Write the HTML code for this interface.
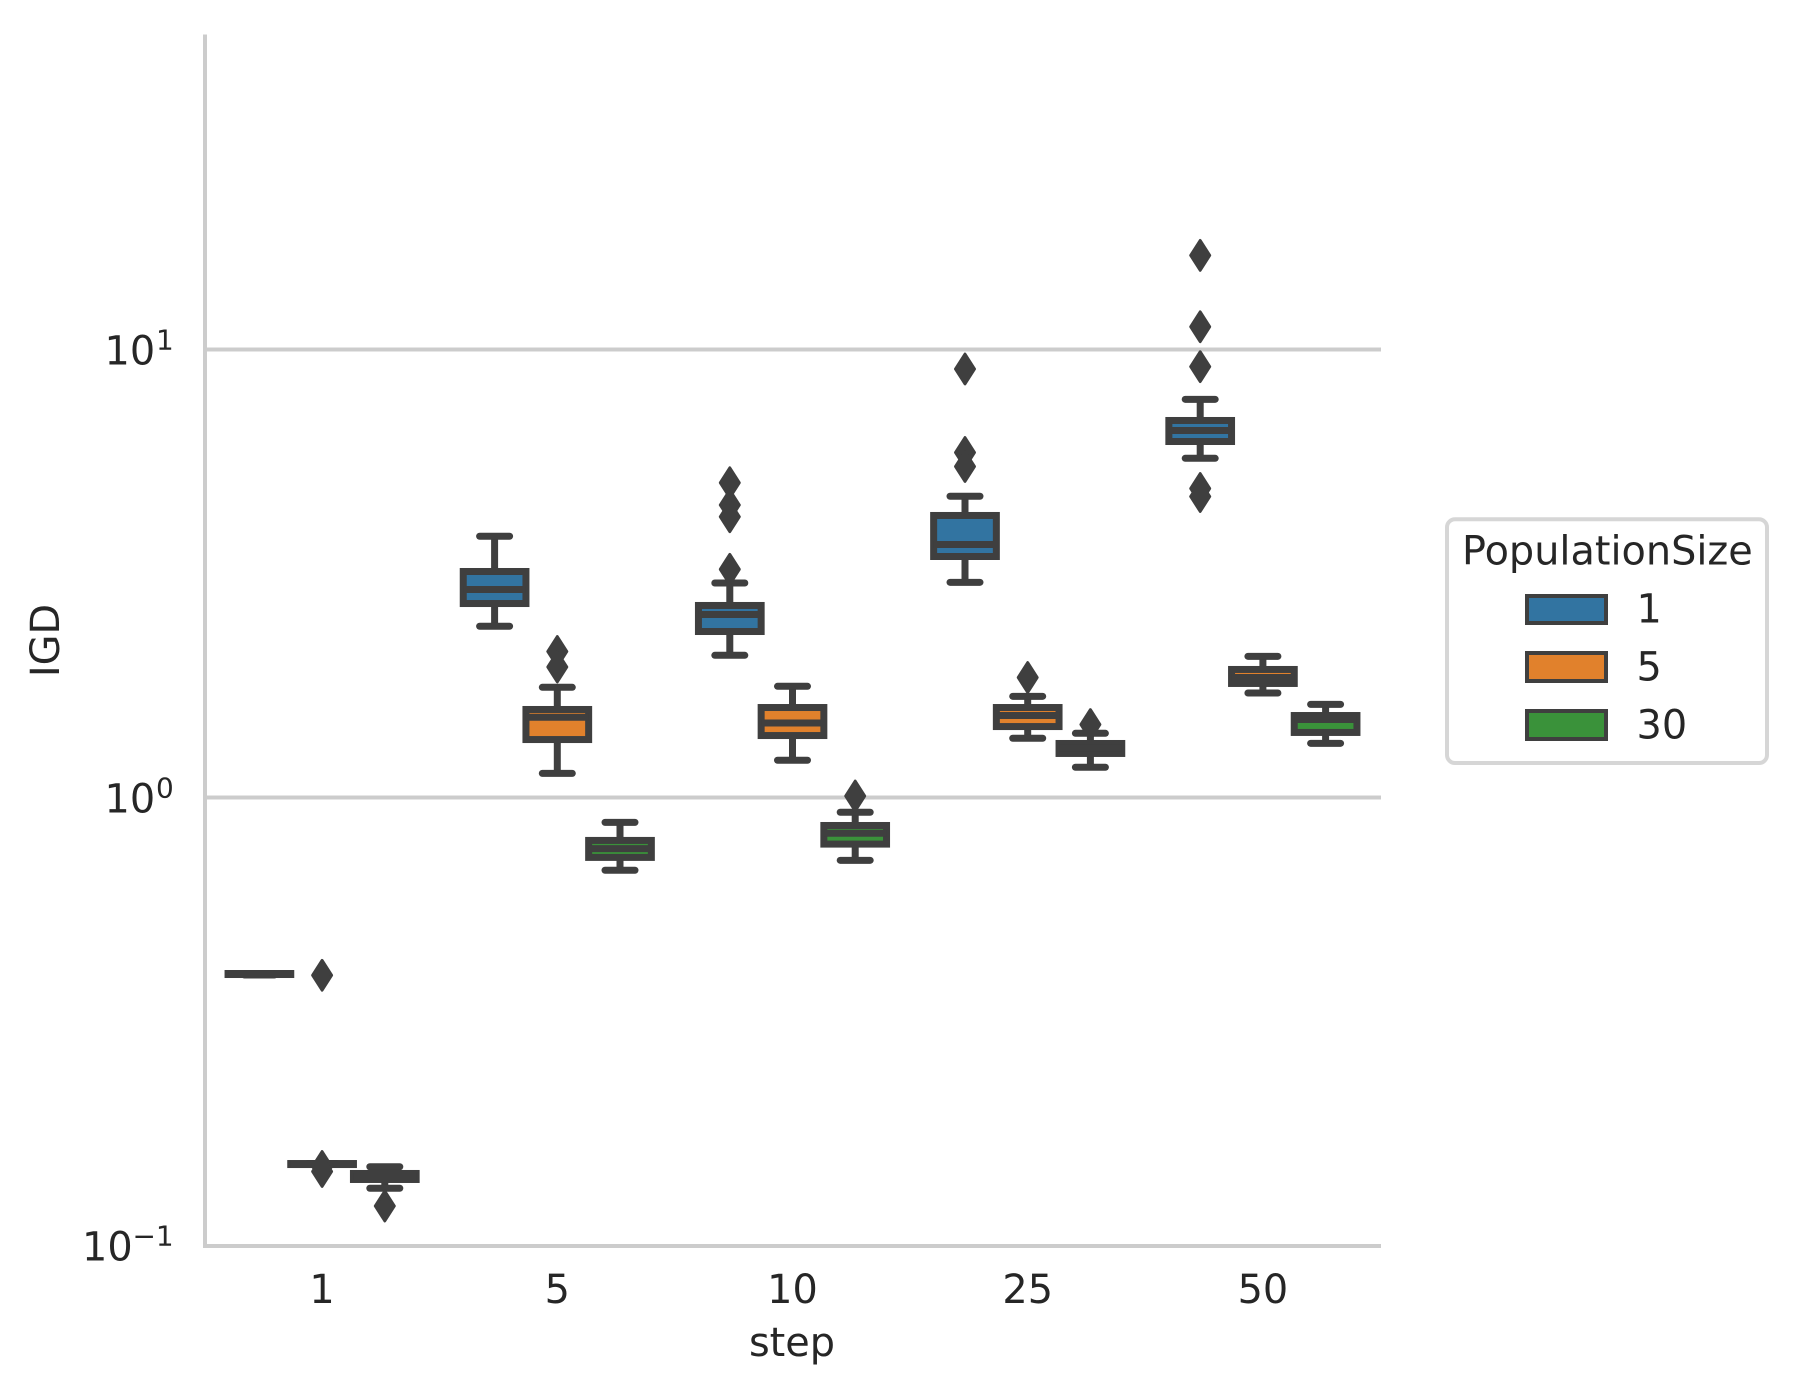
<!DOCTYPE html>
<html lang="en">
<head>
<meta charset="utf-8">
<title>IGD by step and population size</title>
<style>
html,body{margin:0;padding:0;background:#fff;}
svg{display:block;}
text{font-family:"DejaVu Sans","Liberation Sans",sans-serif;font-size:39.8px;fill:#262626;}
</style>
</head>
<body>
<svg id="chart" xmlns="http://www.w3.org/2000/svg" width="1804" height="1393" viewBox="0 0 1804 1393">
  <rect x="0" y="0" width="1804" height="1393" fill="#ffffff"/>
  <g id="grid"></g>
  <g id="boxes"></g>
  <g id="axes"></g>
  <text x="792" y="1356" text-anchor="middle">step</text>
  <text transform="translate(59,640.5) rotate(-90)" text-anchor="middle">IGD</text>
  <g>
    <rect x="1447" y="519.3" width="320" height="243.7" rx="8" ry="8" fill="#ffffff" stroke="#d6d6d6" stroke-width="4"/>
    <text x="1462" y="564.7">PopulationSize</text>
    <rect x="1527" y="596" width="79" height="27" fill="#3274a1" stroke="#3f3f3f" stroke-width="4"/>
    <text x="1636.5" y="622.7">1</text>
    <rect x="1527" y="653" width="79" height="28" fill="#e1812c" stroke="#3f3f3f" stroke-width="4"/>
    <text x="1636.5" y="680.5">5</text>
    <rect x="1527" y="711" width="79" height="28" fill="#3a923a" stroke="#3f3f3f" stroke-width="4"/>
    <text x="1636.5" y="738.5">30</text>
  </g>
</svg>
<script>
const steps = ['1', '5', '10', '25', '50'];
const yTickExponents = [1, 0, -1];
const populationSizes = ['1', '5', '30'];

const pop1Low = [0.4016, 2.411, 2.077, 3.022, 5.717];
const pop1Q1 = [0.4026, 2.710, 2.347, 3.451, 6.232];
const pop1Median = [0.4037, 2.913, 2.561, 3.671, 6.594];
const pop1Q3 = [0.4047, 3.195, 2.683, 4.261, 6.943];
const pop1High = [0.4047, 3.829, 3.012, 4.703, 7.741];
const pop1Fliers = [[], [], [5.043, 4.497, 4.234, 3.231], [9.047, 5.890, 5.481], [16.22, 11.24, 9.155, 4.895, 4.697]];

const pop5Low = [0.1516, 1.132, 1.211, 1.356, 1.711];
const pop5Q1 = [0.1516, 1.347, 1.375, 1.440, 1.797];
const pop5Median = [0.1520, 1.511, 1.467, 1.524, 1.853];
const pop5Q3 = [0.1524, 1.572, 1.588, 1.588, 1.931];
const pop5High = [0.1524, 1.762, 1.771, 1.682, 2.066];
const pop5Fliers = [[0.4010, 0.1501, 0.1463], [2.118, 1.956], [], [1.853], []];

const pop30Low = [0.1342, 0.688, 0.724, 1.168, 1.321];
const pop30Q1 = [0.1404, 0.735, 0.787, 1.254, 1.397];
const pop30Median = [0.1426, 0.769, 0.832, 1.288, 1.493];
const pop30Q3 = [0.1448, 0.802, 0.866, 1.320, 1.524];
const pop30High = [0.1499, 0.880, 0.927, 1.391, 1.614];
const pop30Fliers = [[0.1225], [], [1.008], [1.455], []];

const seriesLow = [pop1Low, pop5Low, pop30Low];
const seriesQ1 = [pop1Q1, pop5Q1, pop30Q1];
const seriesMedian = [pop1Median, pop5Median, pop30Median];
const seriesQ3 = [pop1Q3, pop5Q3, pop30Q3];
const seriesHigh = [pop1High, pop5High, pop30High];
const seriesFliers = [pop1Fliers, pop5Fliers, pop30Fliers];
const seriesColors = ['#3274a1', '#e1812c', '#3a923a'];

const NS = 'http://www.w3.org/2000/svg';
const DARK = '#3f3f3f';
const AXIS_LEFT = 205, AXIS_RIGHT = 1381, AXIS_TOP = 34.5, AXIS_BOTTOM = 1246;
const BOX_W = 62.7, CAP_HALF = 15, LW = 7;

function xBand(i) {
  return AXIS_LEFT + (AXIS_RIGHT - AXIS_LEFT) * (i + 0.5) / steps.length - 0.5;
}
function xBox(i, h) {
  return xBand(i) + (h - 1) * BOX_W;
}
function yScale(v) {
  return 797.5 - 448 * Math.log10(v);
}
function make(tag, attrs, parent) {
  const el = document.createElementNS(NS, tag);
  for (const k in attrs) el.setAttribute(k, attrs[k]);
  parent.appendChild(el);
  return el;
}

const grid = document.getElementById('grid');
const axes = document.getElementById('axes');
const boxes = document.getElementById('boxes');

yTickExponents.forEach(function (e) {
  const y = yScale(Math.pow(10, e));
  if (e > -1) {
    const line = make('line', {x1: AXIS_LEFT, x2: AXIS_RIGHT, y1: y, y2: y, stroke: '#cccccc', 'stroke-width': 4}, grid);
    
    
  }
  const base = make('text', {x: e < 0 ? 82 : 104.5, y: y + 15}, axes);
  base.textContent = '10';
  
  
  const sup = make('text', {x: e < 0 ? 132.5 : 156, y: y, style: 'font-size:27.9px'}, axes);
  sup.textContent = e < 0 ? '\u2212' + Math.abs(e) : String(e);
  
  
});

const spineLeft = make('line', {x1: AXIS_LEFT, x2: AXIS_LEFT, y1: AXIS_TOP, y2: AXIS_BOTTOM + 2, stroke: '#cccccc', 'stroke-width': 4}, axes);


const spineBottom = make('line', {x1: AXIS_LEFT - 2, x2: AXIS_RIGHT, y1: AXIS_BOTTOM, y2: AXIS_BOTTOM, stroke: '#cccccc', 'stroke-width': 4}, axes);



steps.forEach(function (label, i) {
  const t = make('text', {x: xBand(i), y: 1303, 'text-anchor': 'middle'}, axes);
  t.textContent = label;
  
  
});

steps.forEach(function (step, i) {
  populationSizes.forEach(function (pop, h) {
    const cx = xBox(i, h);
    const g = make('g', {}, boxes);
    
    

    const yLow = yScale(seriesLow[h][i]);
    const yQ1 = yScale(seriesQ1[h][i]);
    const yMed = yScale(seriesMedian[h][i]);
    const yQ3 = yScale(seriesQ3[h][i]);
    const yHigh = yScale(seriesHigh[h][i]);

    const whiskerUp = make('line', {x1: cx, x2: cx, y1: yQ3, y2: yHigh, stroke: DARK, 'stroke-width': LW}, g);
    
    
    const whiskerDown = make('line', {x1: cx, x2: cx, y1: yQ1, y2: yLow, stroke: DARK, 'stroke-width': LW}, g);
    
    
    const capUp = make('line', {x1: cx - CAP_HALF, x2: cx + CAP_HALF, y1: yHigh, y2: yHigh, stroke: DARK, 'stroke-width': LW, 'stroke-linecap': 'round'}, g);
    
    
    const capDown = make('line', {x1: cx - CAP_HALF, x2: cx + CAP_HALF, y1: yLow, y2: yLow, stroke: DARK, 'stroke-width': LW, 'stroke-linecap': 'round'}, g);
    
    

    const rect = make('rect', {x: cx - BOX_W / 2, y: yQ3, width: BOX_W, height: yQ1 - yQ3, fill: seriesColors[h], stroke: DARK, 'stroke-width': LW}, g);
    
    
    const median = make('line', {x1: cx - BOX_W / 2, x2: cx + BOX_W / 2, y1: yMed, y2: yMed, stroke: DARK, 'stroke-width': LW}, g);
    
    

    seriesFliers[h][i].forEach(function (v) {
      const fy = yScale(v);
      const d = 'M' + cx + ' ' + (fy - 15) + 'L' + (cx + 9.6) + ' ' + fy + 'L' + cx + ' ' + (fy + 15) + 'L' + (cx - 9.6) + ' ' + fy + 'Z';
      const flier = make('path', {d: d, fill: DARK, stroke: DARK, 'stroke-width': 2.8, 'stroke-linejoin': 'round'}, g);
      
      
    });
  });
});
</script>
</body>
</html>
